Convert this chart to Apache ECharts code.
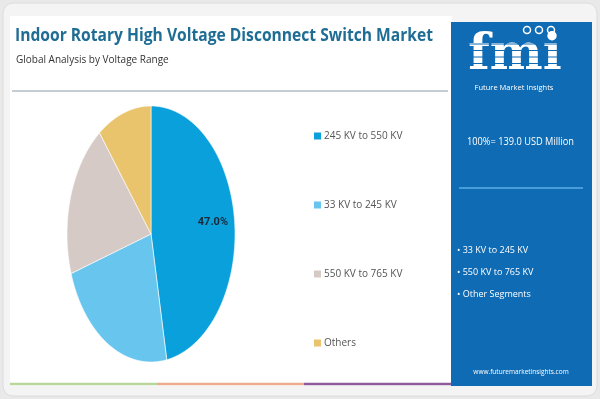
<!DOCTYPE html>
<html><head><meta charset="utf-8">
<script src="https://cdn.jsdelivr.net/npm/echarts@6/dist/echarts.min.js"></script>
<style>html,body{margin:0;padding:0;background:#e9e9e9;}#c{width:600px;height:399px;}</style>
</head><body><div id="c"></div>
<script>
var categories = ['245 KV to 550 KV', '33 KV to 245 KV', '550 KV to 765 KV', 'Others'];
var shares = [47.0, 23.0, 19.5, 10.5];
var colors = ['#0aa0dc', '#68c6ee', '#d6cac7', '#e9c46c'];
var titleText = 'Indoor Rotary High Voltage Disconnect Switch Market';
var subtitleText = 'Global Analysis by Voltage Range';
var totalText = '100%= 139.0 USD Million';
var otherSegments = ['• 33 KV to 245 KV', '• 550 KV to 765 KV', '• Other Segments'];

var chart = echarts.init(document.getElementById('c'), null, {renderer: 'canvas'});
var total = shares.reduce(function (a, b) { return a + b; }, 0);
var CX = 151, CY = 234, RX = 84, RY = 128;

var mctx = document.createElement('canvas').getContext('2d');
function fitText(text, font, width) {
  mctx.font = font;
  return width / mctx.measureText(text).width;
}

function makeSeries(i) {
  return {
    type: 'custom', name: categories[i], coordinateSystem: 'none',
    data: [shares[i]],
    itemStyle: {color: colors[i]},
    renderItem: function (params, api) {
      var before = 0;
      for (var k = 0; k < i; k++) before += shares[k];
      var a0 = before / total * 360, a1 = (before + api.value(0)) / total * 360;
      var pts = [[CX, CY]];
      for (var a = a0; a <= a1 + 1e-6; a += 0.5) {
        var r = a * Math.PI / 180;
        pts.push([CX + RX * Math.sin(r), CY - RY * Math.cos(r)]);
      }
      var r1 = a1 * Math.PI / 180;
      pts.push([CX + RX * Math.sin(r1), CY - RY * Math.cos(r1)]);
      var children = [{type: 'polygon', shape: {points: pts}, style: {fill: colors[i], stroke: '#ffffff', lineWidth: 0.6}}];
      if (i === 0) {
        var mid = (a0 + a1) / 2 * Math.PI / 180;
        children.push({type: 'text', style: {
          text: api.value(0).toFixed(1) + '%', x: CX + RX * 0.74 * Math.sin(mid), y: CY - RY * 0.72 * Math.cos(mid) - 3,
          align: 'center', verticalAlign: 'middle', fill: '#1b2a3a', font: 'bold 11px Roboto, sans-serif'}});
      }
      return {type: 'group', children: children};
    }
  };
}

var titleFont = 'bold 17px "Open Sans", sans-serif';
var totalFont = '10.5px "Open Sans", sans-serif';
var graphics = [
  {type: 'rect', shape: {x: 3, y: 3, width: 594, height: 393, r: 10}, style: {fill: '#f4f4f4', stroke: '#dcdcdc'}, z: -10},
  {type: 'rect', shape: {x: 10, y: 16, width: 442, height: 370}, style: {fill: '#ffffff'}, z: -9},
  {type: 'rect', shape: {x: 451, y: 22, width: 141, height: 364}, style: {fill: '#0f6bb3'}, z: -9},
  {type: 'line', shape: {x1: 12, y1: 91, x2: 448, y2: 91}, style: {stroke: '#8c9ca6', lineWidth: 1.2}},
  {type: 'line', shape: {x1: 10, y1: 384, x2: 157, y2: 384}, style: {stroke: '#b9d79a', lineWidth: 2.5}},
  {type: 'line', shape: {x1: 157, y1: 384, x2: 304, y2: 384}, style: {stroke: '#efab8e', lineWidth: 2.5}},
  {type: 'line', shape: {x1: 304, y1: 384, x2: 451, y2: 384}, style: {stroke: '#8e5a9c', lineWidth: 2.5}},
  {type: 'text', x: 15, y: 36, scaleX: fitText(titleText, titleFont, 418), style: {text: titleText, x: 0, y: 0, verticalAlign: 'middle', fill: '#1f6d94', font: titleFont}},
  {type: 'text', style: {text: subtitleText, x: 16, y: 60, verticalAlign: 'middle', fill: '#333333', font: '10px "Open Sans", sans-serif'}},
  {type: 'text', style: {text: 'fmi', x: 515, y: 56, align: 'center', verticalAlign: 'middle', fill: '#ffffff', font: 'bold 50px "DejaVu Serif", serif'}},
  {type: 'circle', shape: {cx: 527, cy: 30, r: 3.5}, style: {fill: 'none', stroke: '#ffffff', lineWidth: 1.5}},
  {type: 'circle', shape: {cx: 539, cy: 30, r: 3.5}, style: {fill: 'none', stroke: '#ffffff', lineWidth: 1.5}},
  {type: 'circle', shape: {cx: 551, cy: 30, r: 3.5}, style: {fill: 'none', stroke: '#ffffff', lineWidth: 1.5}},
  {type: 'text', style: {text: 'Future Market Insights', x: 514, y: 88, align: 'center', verticalAlign: 'middle', fill: '#ffffff', font: '7.5px "Open Sans", sans-serif'}},
  {type: 'text', x: 467, y: 142, scaleX: fitText(totalText, totalFont, 107), style: {text: totalText, x: 0, y: 0, verticalAlign: 'middle', fill: '#ffffff', font: totalFont}},
  {type: 'line', shape: {x1: 459, y1: 188, x2: 583, y2: 188}, style: {stroke: '#5aaee6', lineWidth: 1.5}},
  {type: 'text', style: {text: 'www.futuremarketinsights.com', x: 521, y: 372, align: 'center', verticalAlign: 'middle', fill: '#ffffff', font: '6.5px "Open Sans", sans-serif'}}
];
for (var s = 0; s < 5; s++) {
  graphics.push({type: 'line', shape: {x1: 470, y1: 44 + s * 6.5, x2: 562, y2: 44 + s * 6.5}, style: {stroke: '#0f6bb3', lineWidth: 1}, z: 5});
}
otherSegments.forEach(function (t, i) {
  graphics.push({type: 'text', style: {text: t, x: 457, y: 250 + i * 22, verticalAlign: 'middle', fill: '#ffffff', font: '9px "Open Sans", sans-serif'}});
});

chart.setOption({
  animation: false,
  legend: {
    orient: 'vertical', left: 314, top: 131, padding: 0,
    itemWidth: 7, itemHeight: 7, itemGap: 59, icon: 'rect',
    data: categories,
    textStyle: {fontSize: 10, color: '#555555', fontFamily: '"Open Sans", sans-serif', padding: [0, 0, 0, -2]}
  },
  graphic: graphics,
  series: categories.map(function (c, i) { return makeSeries(i); })
});
</script></body></html>
